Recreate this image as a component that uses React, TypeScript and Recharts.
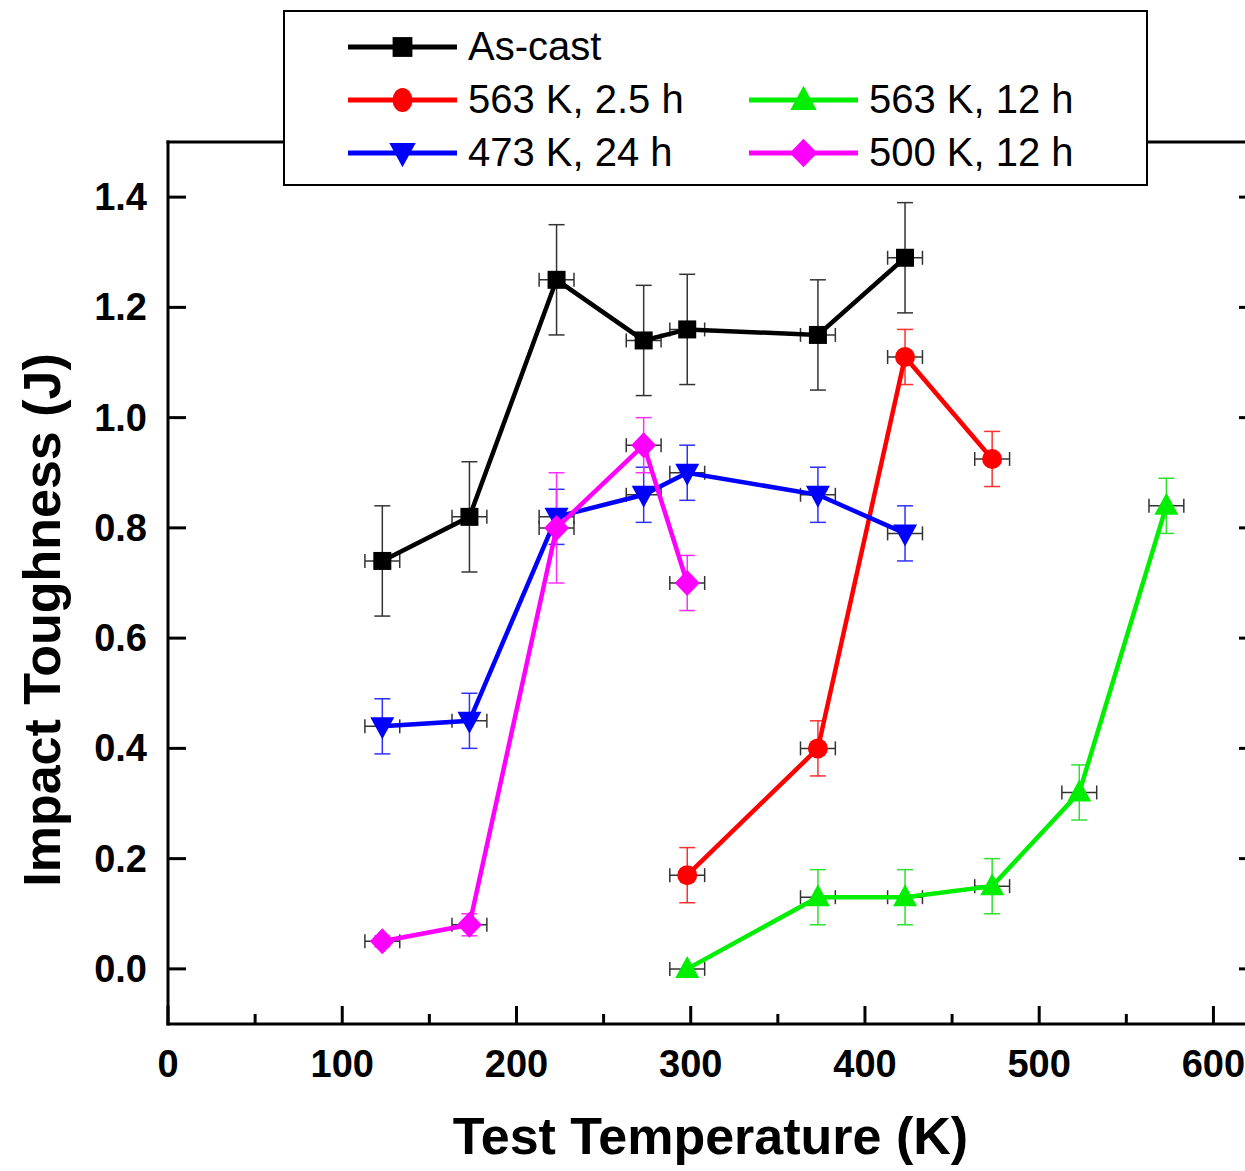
import React from 'react';
import { ScatterChart, Scatter, XAxis, YAxis, ErrorBar, Legend, Label } from 'recharts';

const FONT = 'Arial, "Liberation Sans", Helvetica, sans-serif';

// ---- data ----
const tempErr = 10;

const asCastT = [123, 173, 223, 273, 298, 373, 423];
const asCastY = [0.74, 0.82, 1.25, 1.14, 1.16, 1.15, 1.29];
const asCastErr = [0.1, 0.1, 0.1, 0.1, 0.1, 0.1, 0.1];

const k563h25T = [298, 373, 423, 473];
const k563h25Y = [0.17, 0.4, 1.11, 0.925];
const k563h25Err = [0.05, 0.05, 0.05, 0.05];

const k563h12T = [298, 373, 423, 473, 523, 573];
const k563h12Y = [0.0, 0.13, 0.13, 0.15, 0.32, 0.84];
const k563h12Err = [0, 0.05, 0.05, 0.05, 0.05, 0.05];

const k473h24T = [123, 173, 223, 273, 298, 373, 423];
const k473h24Y = [0.44, 0.45, 0.82, 0.86, 0.9, 0.86, 0.79];
const k473h24Err = [0.05, 0.05, 0.05, 0.05, 0.05, 0.05, 0.05];

const k500h12T = [123, 173, 223, 273, 298];
const k500h12Y = [0.05, 0.08, 0.8, 0.95, 0.7];
const k500h12Err = [0.01, 0.02, 0.1, 0.05, 0.05];

const xTicks = [0, 50, 100, 150, 200, 250, 300, 350, 400, 450, 500, 550, 600];
const yTicks = [0, 0.2, 0.4, 0.6, 0.8, 1.0, 1.2, 1.4];

type Pt = { x: number; y: number; ey: number; ex: number };
const build = (t: number[], v: number[], e: number[]): Pt[] =>
  t.map((x, i) => ({ x, y: v[i], ey: e[i], ex: tempErr }));

type Kind = 'square' | 'circle' | 'up' | 'down' | 'diamond';
const series: { name: string; color: string; err: string; kind: Kind; data: Pt[] }[] = [
  { name: 'As-cast', color: '#000000', err: '#333333', kind: 'square', data: build(asCastT, asCastY, asCastErr) },
  { name: '563 K, 2.5 h', color: '#ff0000', err: '#ff3030', kind: 'circle', data: build(k563h25T, k563h25Y, k563h25Err) },
  { name: '563 K, 12 h', color: '#00ee00', err: '#30e030', kind: 'up', data: build(k563h12T, k563h12Y, k563h12Err) },
  { name: '473 K, 24 h', color: '#0000ff', err: '#3030ff', kind: 'down', data: build(k473h24T, k473h24Y, k473h24Err) },
  { name: '500 K, 12 h', color: '#ff00ff', err: '#ff30ff', kind: 'diamond', data: build(k500h12T, k500h12Y, k500h12Err) },
];

function Marker({ kind, cx, cy, fill, big }: { kind: Kind; cx: number; cy: number; fill: string; big?: boolean }) {
  const k = big ? 1.1 : 1;
  switch (kind) {
    case 'square':
      return <rect x={cx - 9 * k} y={cy - 9 * k} width={18 * k} height={18 * k} fill={fill} />;
    case 'circle':
      return big ? <ellipse cx={cx} cy={cy} rx={10} ry={12} fill={fill} /> : <circle cx={cx} cy={cy} r={10} fill={fill} />;
    case 'up':
      return <polygon points={`${cx},${cy - 13 * k} ${cx + 12 * k},${cy + 9 * k} ${cx - 12 * k},${cy + 9 * k}`} fill={fill} />;
    case 'down':
      return <polygon points={`${cx - 12 * k},${cy - 9 * k} ${cx + 12 * k},${cy - 9 * k} ${cx},${cy + 13 * k}`} fill={fill} />;
    case 'diamond':
      return <polygon points={`${cx},${cy - 13 * k} ${cx + 12.5 * k},${cy} ${cx},${cy + 13 * k} ${cx - 12.5 * k},${cy}`} fill={fill} />;
  }
  return null;
}

const BottomTick = (props: any) => {
  const { x, y, payload } = props;
  const major = payload.value % 100 === 0;
  return (
    <g>
      <line x1={x} y1={y} x2={x} y2={y - (major ? 18 : 10)} stroke="#000" strokeWidth={3} />
      {major && (
        <text x={x} y={y + 53} textAnchor="middle" fontSize={38} fontWeight="bold" fontFamily={FONT} fill="#000">
          {payload.value}
        </text>
      )}
    </g>
  );
};

const TopTick = (props: any) => {
  const { x, y, payload } = props;
  const major = payload.value % 100 === 0;
  return <line x1={x} y1={y} x2={x} y2={y + (major ? 18 : 10)} stroke="#000" strokeWidth={3} />;
};

const LeftTick = (props: any) => {
  const { x, y, payload } = props;
  return (
    <g>
      <line x1={x} y1={y} x2={x + 18} y2={y} stroke="#000" strokeWidth={3} />
      <text x={x - 21} y={y + 13} textAnchor="end" fontSize={38} fontWeight="bold" fontFamily={FONT} fill="#000">
        {Number(payload.value).toFixed(1)}
      </text>
    </g>
  );
};

const RightTick = (props: any) => {
  const { x, y } = props;
  return <line x1={x} y1={y} x2={x - 18} y2={y} stroke="#000" strokeWidth={3} />;
};

function LegendItem({ s }: { s: (typeof series)[number] }) {
  return (
    <div style={{ display: 'flex', alignItems: 'center', height: 53 }}>
      <svg width={109} height={34} style={{ display: 'block' }}>
        <line x1={0} y1={17} x2={109} y2={17} stroke={s.color} strokeWidth={5} />
        <Marker kind={s.kind} cx={54.5} cy={17} fill={s.color} big />
      </svg>
      <span style={{ marginLeft: 11, fontSize: 40, fontFamily: FONT, color: '#000', lineHeight: '53px', whiteSpace: 'nowrap' }}>
        {s.name}
      </span>
    </div>
  );
}

function LegendBox() {
  const cell = (s: (typeof series)[number] | null, key: string) => (
    <div key={key} style={{ width: 401, height: 53 }}>{s ? <LegendItem s={s} /> : null}</div>
  );
  return (
    <div style={{ paddingLeft: 63, paddingTop: 8, display: 'grid', gridTemplateColumns: '401px 401px', gridAutoRows: '53px' }}>
      {cell(series[0], 'a')}
      {cell(null, 'b')}
      {cell(series[1], 'c')}
      {cell(series[2], 'd')}
      {cell(series[3], 'e')}
      {cell(series[4], 'f')}
    </div>
  );
}

const axisLineStyle = { stroke: '#000', strokeWidth: 3, strokeLinecap: 'square' as const };

export default function App() {
  return (
    <div style={{ position: 'absolute', left: 8, top: 8, width: 1237, height: 1163, overflow: 'hidden', background: '#fff' }}>
      <ScatterChart width={1260} height={1163} margin={{ top: 124, right: 1, bottom: 0, left: 0 }}>
        <XAxis
          xAxisId={0}
          type="number"
          dataKey="x"
          domain={[0, 625]}
          ticks={xTicks}
          interval={0}
          allowDataOverflow
          height={147}
          tickLine={false}
          tickSize={0}
          tickMargin={0}
          axisLine={axisLineStyle}
          tick={<BottomTick />}
        >
          <Label
            content={(p: any) => {
              const vb = p.viewBox;
              return (
                <text x={vb.x + vb.width / 2 - 2} y={vb.y + 130} textAnchor="middle" fontSize={52} fontWeight="bold" fontFamily={FONT} fill="#000">
                  Test Temperature (K)
                </text>
              );
            }}
          />
        </XAxis>
        <XAxis
          xAxisId="top"
          orientation="top"
          type="number"
          domain={[0, 625]}
          ticks={xTicks}
          interval={0}
          allowDataOverflow
          height={10}
          tickLine={false}
          tickSize={0}
          tickMargin={0}
          axisLine={axisLineStyle}
          tick={<TopTick />}
        />
        <YAxis
          yAxisId={0}
          type="number"
          dataKey="y"
          domain={[-0.1, 1.5]}
          ticks={yTicks}
          interval={0}
          allowDataOverflow
          width={160}
          tickLine={false}
          tickSize={0}
          tickMargin={0}
          axisLine={axisLineStyle}
          tick={<LeftTick />}
        >
          <Label
            content={(p: any) => {
              const vb = p.viewBox;
              const cx = vb.x + 52;
              const cy = vb.y + vb.height / 2 + 37;
              return (
                <text x={cx} y={cy} transform={`rotate(-90 ${cx} ${cy})`} textAnchor="middle" fontSize={52} fontWeight="bold" fontFamily={FONT} fill="#000">
                  Impact Toughness (J)
                </text>
              );
            }}
          />
        </YAxis>
        <YAxis
          yAxisId="r"
          orientation="right"
          type="number"
          domain={[-0.1, 1.5]}
          ticks={yTicks}
          interval={0}
          allowDataOverflow
          width={10}
          tickLine={false}
          tickSize={0}
          tickMargin={0}
          axisLine={axisLineStyle}
          tick={<RightTick />}
        />
        <Legend
          layout="horizontal"
          verticalAlign="middle"
          align="center"
          content={() => <LegendBox />}
          wrapperStyle={{
            position: 'absolute',
            left: 275,
            top: 2,
            width: 865,
            height: 176,
            border: '2px solid #000',
            background: '#fff',
            boxSizing: 'border-box',
            margin: 0,
          }}
        />
        {series.map((s) => (
          <Scatter
            key={s.name}
            name={s.name}
            data={s.data}
            xAxisId={0}
            yAxisId={0}
            fill={s.color}
            line={{ stroke: s.color, strokeWidth: 4.5 }}
            lineType="joint"
            isAnimationActive={false}
            shape={(p: any) => <Marker kind={s.kind} cx={p.cx} cy={p.cy} fill={s.color} />}
          >
            <ErrorBar dataKey="ey" direction="y" width={8} stroke={s.err} strokeWidth={1.5} isAnimationActive={false} />
            <ErrorBar dataKey="ex" direction="x" width={7} stroke="#333" strokeWidth={1.5} isAnimationActive={false} />
          </Scatter>
        ))}
      </ScatterChart>
    </div>
  );
}
